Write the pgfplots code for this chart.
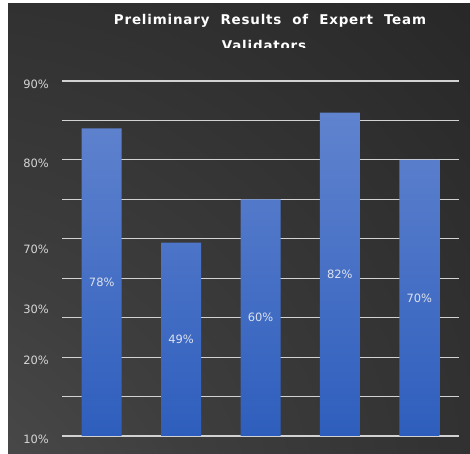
\documentclass[border=0pt]{standalone}
\usepackage{pgfplots}
\pgfplotsset{compat=1.18}
\usepackage{fontspec}
\setmainfont{DejaVu Sans}
\newfontfamily\titlefont[LetterSpace=6]{DejaVu Sans}
\definecolor{bgdark}{HTML}{262626}
\definecolor{bglight}{HTML}{5C5C5C}
\definecolor{bgmid}{HTML}{3E3E3E}
\definecolor{gridc}{HTML}{D2D2D2}
\definecolor{bartop}{HTML}{6083CE}
\definecolor{barbot}{HTML}{2E5EBD}
\definecolor{labc}{HTML}{DCE2F0}
\definecolor{tickc}{HTML}{D6D6D6}
\pgfdeclareradialshading{bgshade}{\pgfpoint{-50bp}{-50bp}}{color(0bp)=(bglight); color(35bp)=(bgmid); color(75bp)=(bgdark); color(150bp)=(bgdark)}
\begin{document}
\begin{tikzpicture}[x=1bp,y=1bp]
\useasboundingbox (0,0) rectangle (470,454);
\fill[white] (0,0) rectangle (470,454);
\shade[shading=bgshade] (8,0) rectangle (470,450);
\node[text=white, font=\titlefont\bfseries\fontsize{13.5}{16}\selectfont] at (270,433) {Preliminary\ \ Results\ \ of\ \ Expert\ \ Team};
\begin{scope}
\clip (8,406) rectangle (470,450);
\node[text=white, font=\titlefont\bfseries\fontsize{13.5}{16}\selectfont] at (264,409) {Validators};
\end{scope}
\begin{axis}[
  at={(62bp,18bp)}, anchor=south west,
  scale only axis, width=397bp, height=355bp,
  xmin=-0.5, xmax=4.5, ymin=0, ymax=90,
  axis line style={draw=none},
  major tick length=0pt,
  xtick=\empty,
  ytick={0,10,...,90}, yticklabels={},
  ymajorgrids, grid style={gridc, line width=1.2bp},
  extra y ticks={0,20,33,48,70,90},
  extra y tick labels={10\%,20\%,30\%,70\%,80\%,90\%},
  extra y tick style={grid=none},
  yticklabel style={font=\fontsize{11.5}{13}\selectfont, text=tickc, anchor=east, inner sep=0pt, xshift=-13bp, yshift=-3bp},
  /pgf/number format/assume math mode=true,
  ybar, bar width=40bp,
  clip=false,
]
\addplot[draw=none, top color=bartop, bottom color=barbot,
  visualization depends on={y \as \rawy},
  nodes near coords={\pgfmathprintnumber{\pgfplotspointmeta}\%},
  every node near coord/.append style={anchor=center, shift={(axis direction cs:0,-\rawy/2)}, font=\fontsize{11.5}{13}\selectfont, text=labc},
] coordinates {(0,78) (1,49) (2,60) (3,82) (4,70)};
\end{axis}
\end{tikzpicture}
\end{document}
